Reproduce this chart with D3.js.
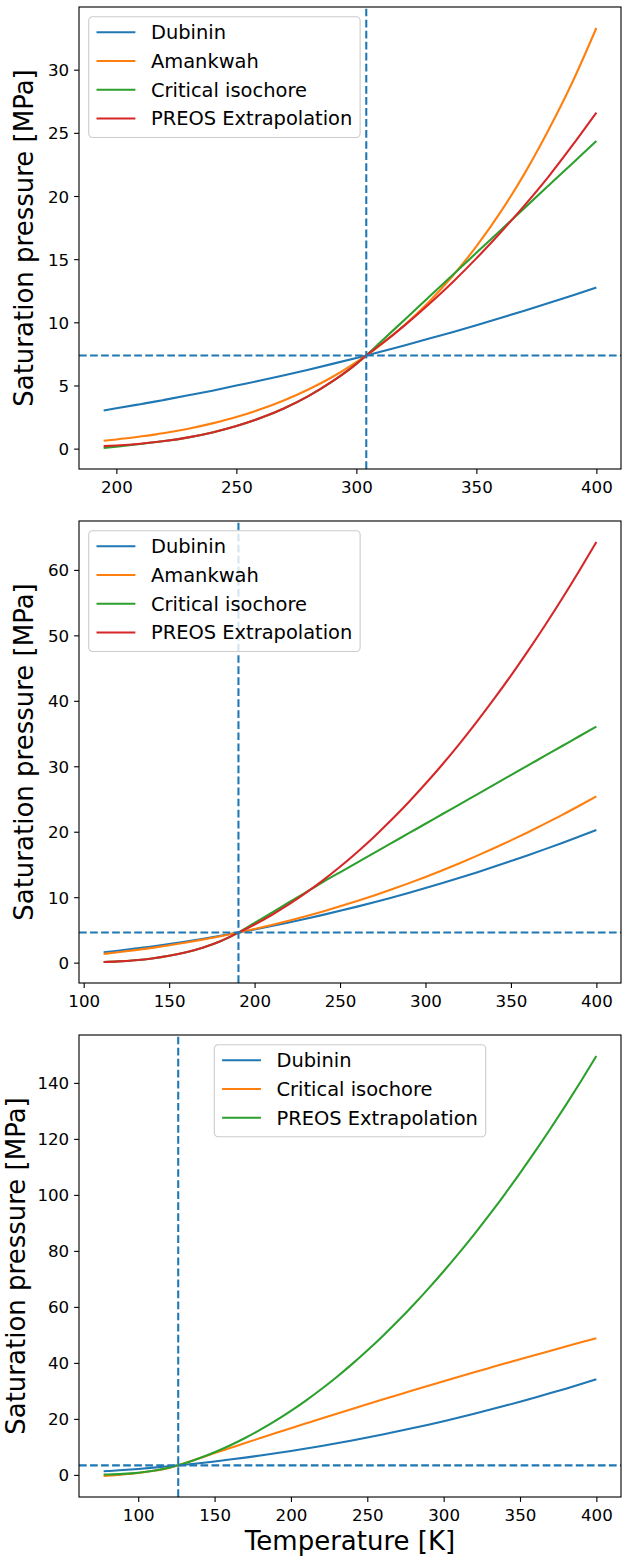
<!DOCTYPE html>
<html>
<head>
<meta charset="utf-8">
<script src="https://cdn.jsdelivr.net/npm/d3@7"></script>
<style>
  body { margin: 0; background: #fff; }
  svg { display: block; font-family: "DejaVu Sans", sans-serif; }
</style>
</head>
<body>
<svg id="chart" width="637" height="1563"></svg>
<script>

// ---- panel 1 (CO2) ----
var temps1 = [194.7, 200, 210, 216.6, 220, 230, 240, 250, 260, 270, 280, 290, 300, 304.13,
              310, 320, 330, 340, 350, 360, 370, 380, 390, 400];
var dubinin1 = [3.02, 3.19, 3.52, 3.74, 3.86, 4.22, 4.59, 4.99, 5.39, 5.81, 6.25, 6.71, 7.18, 7.38,
                7.67, 8.17, 8.69, 9.22, 9.77, 10.34, 10.92, 11.52, 12.13, 12.76];
var amankwah1 = [0.63, 0.73, 0.96, 1.13, 1.24, 1.58, 2.00, 2.50, 3.11, 3.83, 4.68, 5.67, 6.84, 7.38,
                 8.20, 9.77, 11.57, 13.65, 16.01, 18.70, 21.75, 25.20, 29.00, 33.30];
var isochore1 = [0.05, 0.16, 0.37, 0.52, 0.60, 0.89, 1.28, 1.79, 2.42, 3.20, 4.16, 5.32, 6.71, 7.38,
                 8.42, 10.19, 11.96, 13.73, 15.50, 17.27, 19.04, 20.81, 22.58, 24.35];
var preos1 = [0.20, 0.25, 0.39, 0.52, 0.60, 0.89, 1.28, 1.79, 2.42, 3.20, 4.16, 5.32, 6.71, 7.38,
              8.22, 9.74, 11.39, 13.16, 15.06, 17.09, 19.24, 21.52, 24.00, 26.60];
var critical1 = [304.13, 7.377];
var xTicks1 = [200, 250, 300, 350, 400];
var yTicks1 = [0, 5, 10, 15, 20, 25, 30];

// ---- panel 2 (CH4) ----
var temps2 = [111.67, 120, 130, 140, 150, 160, 170, 180, 190.56, 200, 210, 220, 230, 240, 250,
              260, 270, 280, 290, 300, 310, 320, 330, 340, 350, 360, 370, 380, 390, 400];
var dubinin2 = [1.58, 1.82, 2.14, 2.48, 2.85, 3.24, 3.66, 4.10, 4.60, 5.07, 5.59, 6.13, 6.70, 7.30, 7.92,
                8.56, 9.23, 9.93, 10.65, 11.40, 12.17, 12.97, 13.79, 14.64, 15.52, 16.41, 17.34, 18.29, 19.26, 20.26];
var amankwah2 = [1.34, 1.58, 1.91, 2.26, 2.65, 3.07, 3.54, 4.03, 4.60, 5.14, 5.75, 6.40, 7.10, 7.83, 8.60,
                 9.41, 10.27, 11.17, 12.11, 13.09, 14.12, 15.19, 16.31, 17.47, 18.68, 19.93, 21.23, 22.57, 23.97, 25.41];
var isochore2 = [0.10, 0.19, 0.37, 0.64, 1.04, 1.59, 2.33, 3.28, 4.60, 6.07, 7.63, 9.19, 10.75, 12.31, 13.80,
                 15.28, 16.77, 18.25, 19.74, 21.22, 22.71, 24.19, 25.68, 27.16, 28.65, 30.13, 31.62, 33.10, 34.59, 36.07];
var preos2 = [0.10, 0.19, 0.37, 0.64, 1.04, 1.59, 2.33, 3.28, 4.60, 5.83, 7.28, 8.89, 10.65, 12.57, 14.64,
              16.87, 19.25, 21.78, 24.47, 27.32, 30.31, 33.47, 36.78, 40.24, 43.85, 47.63, 51.55, 55.63, 59.87, 64.26];
var critical2 = [190.56, 4.599];
var xTicks2 = [100, 150, 200, 250, 300, 350, 400];
var yTicks2 = [0, 10, 20, 30, 40, 50, 60];

// ---- panel 3 (N2) ----
var temps3 = [77.35, 80, 90, 100, 110, 120, 126.19, 130, 140, 150, 160, 170, 180, 190, 200, 210, 220,
              230, 240, 250, 260, 270, 280, 290, 300, 310, 320, 330, 340, 350, 360, 370, 380, 390, 400];
var dubinin3 = [1.28, 1.37, 1.73, 2.13, 2.58, 3.07, 3.40, 3.60, 4.18, 4.80, 5.46, 6.16, 6.91, 7.70, 8.53, 9.41, 10.32,
                11.28, 12.28, 13.33, 14.42, 15.55, 16.72, 17.94, 19.19, 20.50, 21.84, 23.22, 24.65, 26.13, 27.64, 29.20, 30.80, 32.44, 34.12];
var isochore3 = [-0.40, -0.30, 0.15, 0.70, 1.45, 2.50, 3.40, 4.10, 5.94, 7.77, 9.57, 11.37, 13.15, 14.92, 16.67, 18.41, 20.14,
                 21.85, 23.55, 25.23, 26.90, 28.56, 30.20, 31.83, 33.44, 35.04, 36.63, 38.20, 39.76, 41.30, 42.83, 44.34, 45.85, 47.33, 48.81];
var preos3 = [0.10, 0.14, 0.36, 0.78, 1.47, 2.51, 3.40, 4.04, 5.92, 8.07, 10.49, 13.17, 16.13, 19.36, 22.86, 26.63, 30.67,
              34.98, 39.56, 44.41, 49.53, 54.92, 60.58, 66.51, 72.71, 79.19, 85.93, 92.94, 100.22, 107.78, 115.60, 123.69, 132.06, 140.69, 149.60];
var critical3 = [126.19, 3.396];
var xTicks3 = [100, 150, 200, 250, 300, 350, 400];
var yTicks3 = [0, 20, 40, 60, 80, 100, 120, 140];

var panels = [
    { temps: temps1, critical: critical1, xTicks: xTicks1, yTicks: yTicks1, legend: "upper left",
      series: [{ name: "Dubinin", values: dubinin1 }, { name: "Amankwah", values: amankwah1 },
               { name: "Critical isochore", values: isochore1 }, { name: "PREOS Extrapolation", values: preos1 }] },
    { temps: temps2, critical: critical2, xTicks: xTicks2, yTicks: yTicks2, legend: "upper left",
      series: [{ name: "Dubinin", values: dubinin2 }, { name: "Amankwah", values: amankwah2 },
               { name: "Critical isochore", values: isochore2 }, { name: "PREOS Extrapolation", values: preos2 }] },
    { temps: temps3, critical: critical3, xTicks: xTicks3, yTicks: yTicks3, legend: "upper center",
      series: [{ name: "Dubinin", values: dubinin3 }, { name: "Critical isochore", values: isochore3 },
               { name: "PREOS Extrapolation", values: preos3 }] }
];

var colors = ["#1f77b4", "#ff7f0e", "#2ca02c", "#d62728"];

var left = 79, plotW = 542, plotH = 462;
var tops = [7, 521, 1035];
var tickLen = 4.9, tickPad = 4.9;
var tickFont = 16.67, labelFont = 26, legendFont = 19.44;
var lw = 2.08;

var svg = d3.select("#chart");
svg.append("rect").attr("width", 637).attr("height", 1563).attr("fill", "#fff");

panels.forEach(function(p, i) {

    var g = svg.append("g").attr("transform", "translate(" + left + "," + tops[i] + ")");

    // matplotlib style 5% margins
    var xe = d3.extent(p.temps), xm = (xe[1] - xe[0]) * 0.05;
    var x = d3.scaleLinear().domain([xe[0] - xm, xe[1] + xm]).range([0, plotW]);

    var ye = d3.extent(p.series.flatMap(function(s) { return s.values; })), ym = (ye[1] - ye[0]) * 0.05;
    var y = d3.scaleLinear().domain([ye[0] - ym, ye[1] + ym]).range([plotH, 0]);

    g.append("clipPath").attr("id", "clip" + i)
        .append("rect").attr("width", plotW).attr("height", plotH);

    var plot = g.append("g").attr("clip-path", "url(#clip" + i + ")");

    var line = d3.line()
        .x(function(d) { return x(d[0]); })
        .y(function(d) { return y(d[1]); })
        .curve(d3.curveMonotoneX);

    p.series.forEach(function(s, k) {
        plot.append("path")
            .datum(p.temps.map(function(t, j) { return [t, s.values[j]]; }))
            .attr("d", line)
            .attr("fill", "none")
            .attr("stroke", colors[k])
            .attr("stroke-width", lw)
            .attr("stroke-linejoin", "round");
    });

    // critical temperature / pressure
    plot.append("line")
        .attr("x1", 0).attr("x2", plotW)
        .attr("y1", y(p.critical[1])).attr("y2", y(p.critical[1]))
        .attr("stroke", colors[0]).attr("stroke-width", lw).attr("stroke-dasharray", "7.71,3.33");
    plot.append("line")
        .attr("x1", x(p.critical[0])).attr("x2", x(p.critical[0]))
        .attr("y1", plotH).attr("y2", 0)
        .attr("stroke", colors[0]).attr("stroke-width", lw).attr("stroke-dasharray", "7.71,3.33");

    // axes
    var xAxis = g.append("g").attr("transform", "translate(0," + plotH + ")")
        .call(d3.axisBottom(x).tickValues(p.xTicks).tickSize(tickLen).tickFormat(d3.format("d")));
    var yAxis = g.append("g")
        .call(d3.axisLeft(y).tickValues(p.yTicks).tickSize(tickLen).tickPadding(tickPad).tickFormat(d3.format("d")));

    [xAxis, yAxis].forEach(function(a) {
        a.select(".domain").remove();
        a.attr("font-family", null).attr("font-size", null);
        a.selectAll("line").attr("stroke", "#000").attr("stroke-width", 1.11);
        a.selectAll("text").attr("fill", "#000").style("font-size", tickFont + "px");
    });
    xAxis.selectAll("text").attr("y", 24).attr("dy", null);
    yAxis.selectAll("text").attr("x", -(tickLen + tickPad)).attr("dy", "0.36em");

    g.append("rect")
        .attr("width", plotW).attr("height", plotH)
        .attr("fill", "none").attr("stroke", "#000").attr("stroke-width", 1.11);

    // y label, placed left of the widest tick label (kept inside the page)
    var maxW = d3.max(yAxis.selectAll("text").nodes(), function(n) { return n.getComputedTextLength(); });
    var lx = Math.max(-(tickLen + tickPad) - maxW - 15, 25 - left);
    g.append("text")
        .attr("transform", "translate(" + lx + "," + (plotH / 2) + ") rotate(-90)")
        .attr("text-anchor", "middle")
        .style("font-size", labelFont + "px")
        .text("Saturation pressure [MPa]");

    if (i === panels.length - 1) {
        g.append("text")
            .attr("x", plotW / 2).attr("y", plotH + 53)
            .attr("text-anchor", "middle")
            .style("font-size", labelFont + "px")
            .text("Temperature [K]");
    }

    // legend
    var f = legendFont, rowH = 19, gap = 0.5 * f;
    var leg = g.append("g");
    var box = leg.append("rect");
    var texts = [];
    p.series.forEach(function(s, k) {
        var base = 0.4 * f + k * (rowH + gap) + 14.8;
        leg.append("line")
            .attr("x1", 0.4 * f).attr("x2", 2.4 * f)
            .attr("y1", base - 7).attr("y2", base - 7)
            .attr("stroke", colors[k]).attr("stroke-width", lw);
        texts.push(leg.append("text")
            .attr("x", 3.2 * f).attr("y", base)
            .style("font-size", f + "px")
            .text(s.name));
    });
    var tw = d3.max(texts, function(t) { return t.node().getComputedTextLength(); });
    var bw = 3.6 * f + tw;
    var bh = 0.8 * f + p.series.length * rowH + (p.series.length - 1) * gap;
    box.attr("width", bw).attr("height", bh).attr("rx", 3.9)
        .attr("fill", "#fff").attr("fill-opacity", 0.8)
        .attr("stroke", "#cccccc").attr("stroke-width", 1.1);
    var bx = p.legend === "upper center" ? (plotW - bw) / 2 : 0.5 * f;
    leg.attr("transform", "translate(" + bx + "," + (0.5 * f) + ")");
});

</script>
</body>
</html>
